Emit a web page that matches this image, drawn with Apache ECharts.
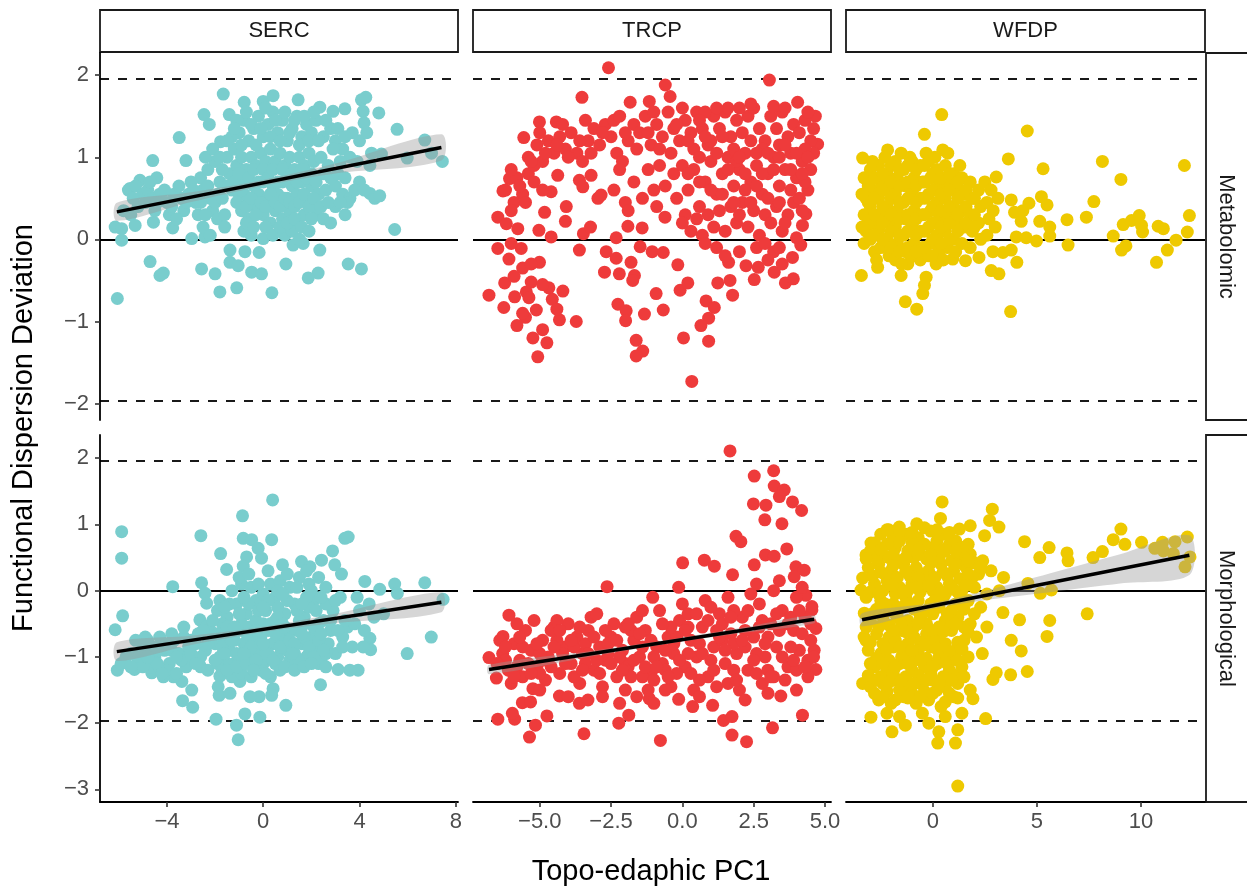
<!DOCTYPE html>
<html>
<head>
<meta charset="utf-8">
<title>Functional Dispersion Deviation vs Topo-edaphic PC1</title>
<script src="https://cdn.jsdelivr.net/npm/echarts@6.0.0/dist/echarts.min.js"></script>
<style>
  html, body { margin: 0; background: #fff; }
  #chart { width: 1247px; height: 890px; }
</style>
</head>
<body>
<div id="chart"></div>
<script>
// facets
const sites = ['SERC', 'TRCP', 'WFDP'];
const traits = ['Metabolomic', 'Morphological'];
const siteColors = ['#79CDCD', '#EE3B3B', '#EEC900'];

// axis limits / ticks (x free per site, y free per trait row)
const xLimits = [[-6.78, 8.09], [-7.34, 5.21], [-4.17, 13.08]];
const yLimits = [[-2.2, 2.27], [-3.19, 2.35]];
const xTicks = [[-4, 0, 4, 8], [-5, -2.5, 0, 2.5, 5], [0, 5, 10]];
const xTickDigits = [0, 1, 0];
const yTicks = [[-2, -1, 0, 1, 2], [-3, -2, -1, 0, 1, 2]];
const refLines = [-1.96, 0, 1.96];

// SERC - metabolomic
const sercMet = [
  [-1.66,1.77],[-0.79,1.67],[0.0,1.68],[0.41,1.75],[1.45,1.70],[2.35,1.61],[2.9,1.56],[3.39,1.59],[4.08,1.70],[4.26,1.73],
  [4.15,1.56],[4.19,1.42],[4.8,1.54],[5.56,1.34],[6.71,1.21],[6.99,1.05],[7.44,0.95],[5.98,0.99],[4.91,1.04],[4.43,0.90],
  [4.43,0.56],[4.63,0.50],[4.84,0.53],[5.46,0.12],[3.53,-0.30],[4.08,-0.36],[2.35,-0.13],[2.28,-0.41],[1.87,-0.47],[0.94,-0.30],
  [1.66,-0.05],[1.24,-0.07],[0.36,-0.65],[0.0,0.01],[-0.17,-0.16],[-0.48,-0.40],[-0.07,-0.42],[-0.76,-0.15],[-1.38,-0.13],[-1.10,-0.59],
  [-1.38,-0.28],[-1.04,-0.32],[-1.80,-0.64],[-2.0,-0.42],[-2.56,-0.36],[-2.97,0.01],[-2.42,0.03],[-4.70,-0.27],[-4.29,-0.44],[-4.15,-0.41],
  [-6.06,-0.72],[-5.88,-0.01],[-6.15,0.15],[-5.88,0.13],[-5.32,0.17],[-4.56,0.21],[-3.76,0.14],[-3.49,1.24],[-4.59,0.96],[-3.21,0.96],
  [-4.42,0.75],[-5.53,0.62],[-5.12,0.72],[-2.46,1.52],[-2.24,1.40],[-1.77,1.19],[-1.41,1.52],
  [-1.5,1.0],[-1.2,1.1],[-1.0,1.3],[-0.8,1.45],[-0.6,1.2],[-0.4,1.35],[-0.2,1.5],[0.0,1.25],[0.2,1.4],[0.4,1.55],
  [0.6,1.3],[0.8,1.45],[1.0,1.2],[1.2,1.35],[1.4,1.5],[1.6,1.25],[1.8,1.4],[2.0,1.3],[2.2,1.45],[2.5,1.25],
  [2.8,1.35],[3.0,1.2],[3.3,1.1],[3.6,1.0],[3.9,0.95],
  [-1.4,0.8],[-1.1,0.9],[-0.9,1.0],[-0.7,0.85],[-0.5,1.0],[-0.3,0.9],[-0.1,1.05],[0.1,0.95],[0.3,1.1],[0.5,0.95],
  [0.7,1.05],[0.9,0.9],[1.1,1.0],[1.3,0.85],[1.5,1.0],[1.7,0.9],[1.9,1.05],[2.1,0.95],[2.4,1.0],[2.7,0.9],[3.2,0.95],
  [-1.3,0.6],[-1.0,0.55],[-0.8,0.7],[-0.6,0.5],[-0.4,0.65],[-0.2,0.55],[0.0,0.7],[0.2,0.5],[0.4,0.65],[0.6,0.55],
  [0.8,0.7],[1.0,0.5],[1.2,0.65],[1.4,0.55],[1.6,0.7],[1.8,0.5],[2.0,0.65],[2.3,0.55],[2.6,0.6],[3.0,0.65],[3.3,0.55],[3.6,0.5],
  [-0.9,0.35],[-0.6,0.25],[-0.3,0.4],[0.0,0.3],[0.3,0.2],[0.5,0.35],[0.8,0.25],[1.1,0.35],[1.4,0.2],[1.7,0.3],[2.2,0.3],[2.5,0.25],
  [-0.8,0.1],[-0.5,0.05],[0.9,0.05],[1.2,0.1],[1.5,0.0],
  [-5.6,0.6],[-5.3,0.65],[-5.0,0.55],[-4.8,0.6],[-4.6,0.5],[-4.3,0.55],[-4.0,0.45],[-3.7,0.55],[-3.4,0.5],[-3.1,0.55],
  [-2.8,0.45],[-2.5,0.6],[-2.2,0.5],[-1.9,0.55],[-5.2,0.4],[-4.5,0.35],[-3.9,0.3],[-3.3,0.35],[-2.7,0.3],[-2.1,0.35],
  [-1.8,0.7],[-2.6,0.75],[-3.0,0.7],[-2.3,0.85],[-2.0,0.95],[-2.4,1.0],[-2.1,1.1],[-1.7,0.85],[-1.9,0.25],[-2.5,0.15],
  [-2.2,0.05],[-1.6,0.3],
  [4.0,0.7],[3.8,0.6],[3.5,0.45],[4.2,0.6],[3.4,0.3],[4.5,1.05],[4.0,1.2],[3.7,1.3],[4.3,1.3],[3.0,0.4],[2.8,0.2],
  [-1.3,1.25],[-1.1,1.45],[-0.9,1.15],[-0.7,1.55],[-0.5,1.4],[-0.3,1.15],[-0.1,1.35],[0.1,1.6],[0.3,1.25],[0.5,1.45],
  [0.7,1.2],[0.9,1.55],[1.1,1.3],[1.3,1.45],[1.5,1.15],[1.7,1.5],[1.9,1.2],[2.1,1.55],[2.3,1.2],[2.6,1.45],
  [2.9,1.1],[3.1,1.35],[3.4,1.25],
  [-1.2,0.7],[-1.0,0.8],[-0.8,0.55],[-0.6,0.75],[-0.4,0.85],[-0.2,0.7],[0.0,0.85],[0.2,0.75],[0.4,0.85],[0.6,0.7],
  [0.8,0.85],[1.0,0.75],[1.2,0.8],[1.4,0.7],[1.6,0.85],[1.8,0.75],[2.0,0.8],[2.2,0.7],[2.5,0.8],[2.8,0.75],[3.1,0.8],[3.4,0.75],
  [-1.1,0.45],[-0.9,0.6],[-0.7,0.4],[-0.5,0.5],[-0.3,0.3],[-0.1,0.45],[0.1,0.4],[0.3,0.55],[0.5,0.45],[0.7,0.4],
  [0.9,0.5],[1.1,0.45],[1.3,0.4],[1.5,0.45],[1.7,0.55],[1.9,0.4],[2.1,0.5],[2.4,0.4],[2.7,0.45],[3.2,0.45],
  [-0.7,0.2],[-0.4,0.15],[0.1,0.15],[0.4,0.05],[0.7,0.15],[1.0,0.2],[1.3,0.25],[1.6,0.15],[1.9,0.1],[2.0,0.25],
  [-5.4,0.5],[-4.9,0.45],[-4.4,0.45],[-3.8,0.4],[-3.5,0.65],[-3.2,0.45],[-2.9,0.6],[-2.6,0.45],[-2.3,0.65],[-2.0,0.45],
  [-1.7,0.5],[-1.5,0.65],[-4.1,0.6],[-4.7,0.7],[-5.8,0.35],[-5.5,0.3],[-3.6,0.25],[-2.4,0.3],[-1.5,1.2],[-1.8,1.0],
  [-1.2,1.35],[-1.6,0.15]
];

// SERC - morphological
const sercMor = [
  [-5.88,0.89],[-5.88,0.49],[-6.15,-0.59],[-5.84,-0.38],[-6.06,-1.20],[-3.76,0.06],[-2.59,0.83],[-1.77,0.56],[-1.52,0.32],[-0.86,1.13],
  [0.39,1.37],[0.35,0.77],[-0.83,0.79],[-0.48,0.77],[-0.21,0.64],[-0.07,0.49],[-0.69,0.51],[-0.83,0.37],[0.80,0.39],[1.59,0.44],
  [1.94,0.36],[2.42,0.46],[2.88,0.60],[3.39,0.79],[3.53,0.81],[2.97,0.39],[3.25,0.25],[4.22,0.14],[4.84,0.02],[5.46,0.10],
  [5.57,-0.04],[6.71,0.12],[7.47,-0.13],[6.98,-0.70],[5.98,-0.95],[4.43,-0.72],[4.46,-0.89],[4.15,-0.85],[3.94,-1.20],[3.6,-1.20],
  [3.11,-1.19],[2.38,-1.42],[0.94,-1.73],[0.41,-1.48],[0.35,-1.58],[-0.14,-1.91],[-0.17,-1.60],[-0.55,-1.60],[-0.76,-1.86],[-1.11,-2.03],
  [-1.04,-2.25],[-1.96,-1.94],[-1.87,-1.45],[-1.83,-1.58],[-1.38,-1.55],[-1.80,-1.29],[-0.97,-1.37],[-2.97,-1.50],[-2.93,-1.76],[-3.35,-1.66],
  [-3.38,-1.37],[-3.73,-1.30],[-3.18,-1.10],[-4.63,-1.24],[-4.15,-1.30],[-5.35,-1.19],[-2.56,0.12],[-2.42,-0.04],[-2.35,-0.19],[-2.63,-0.44],
  [-2.35,-0.54],
  [-2.2,-0.6],[-2.0,-0.8],[-1.8,-1.0],[-1.6,-0.7],[-1.4,-0.9],[-1.2,-1.1],[-1.0,-0.6],[-0.8,-0.8],[-0.6,-1.0],[-0.4,-0.7],
  [-0.2,-0.9],[0.0,-1.1],[0.2,-0.6],[0.4,-0.8],[0.6,-1.0],[0.8,-0.7],[1.0,-0.9],[1.2,-1.1],[1.4,-0.6],[1.6,-0.8],
  [1.8,-1.0],[2.0,-0.7],[2.2,-0.9],[2.4,-1.05],[2.7,-0.8],[3.0,-0.95],[3.3,-0.7],[3.5,-0.55],
  [-1.9,-0.3],[-1.5,-0.4],[-1.1,-0.2],[-0.7,-0.35],[-0.3,-0.15],[0.1,-0.3],[0.5,-0.1],[0.9,-0.35],[1.3,-0.2],[1.7,-0.4],
  [2.1,-0.15],[2.5,-0.45],[2.9,-0.3],[3.2,-0.1],
  [-1.3,0.0],[-0.9,0.1],[-0.5,0.05],[0.3,0.1],[0.7,0.15],[1.1,0.05],[1.5,0.2],[1.9,0.1],[2.3,0.2],[0.0,-0.05],
  [-1.7,-1.2],[-1.3,-1.3],[-0.9,-1.25],[-0.5,-1.3],[-0.1,-1.2],[0.3,-1.3],[0.7,-1.2],[1.1,-1.05],[1.5,-1.05],[1.9,-0.95],
  [2.3,-1.1],[2.6,-1.15],[-2.4,-0.9],[-2.6,-1.15],[-2.3,-1.2],
  [-1.7,-0.5],[-1.2,-0.75],[-0.6,-0.55],[-0.1,-0.7],[0.5,-0.45],[1.1,-0.6],[1.6,-0.55],[2.3,-0.5],[2.8,-0.6],[-0.3,-0.45],
  [0.2,-0.95],[0.9,-0.85],[1.3,-0.95],[-0.9,-1.0],[-1.5,-1.1],[0.6,-0.25],[1.9,-0.25],[-0.5,-1.1],[2.6,-0.95],[0.0,-0.5],
  [-5.5,-0.95],[-5.2,-1.05],[-5.0,-0.85],[-4.8,-0.75],[-4.5,-1.0],[-4.3,-0.7],[-4.1,-0.9],[-3.9,-1.1],[-3.7,-0.75],[-3.5,-0.95],
  [-3.3,-0.7],[-3.1,-0.85],[-2.9,-1.05],[-2.7,-0.65],[-4.7,-1.15],[-4.0,-1.2],[-3.6,-1.25],[-3.0,-0.75],[-5.7,-1.0],[-4.9,-0.7],
  [-3.8,-0.65],[-3.2,-1.15],
  [3.8,-0.5],[4.0,-0.3],[4.2,-0.6],[4.6,-0.4],[3.7,-0.85],[4.4,-0.2],[5.0,-0.35],[3.9,-0.1],[3.4,-0.45],
  [-2.1,-0.45],[-1.9,-0.65],[-1.7,-0.85],[-1.5,-0.55],[-1.3,-0.75],[-1.1,-0.95],[-0.9,-0.5],[-0.7,-0.65],[-0.5,-0.85],[-0.3,-0.6],
  [-0.1,-0.8],[0.1,-0.95],[0.3,-0.5],[0.5,-0.65],[0.7,-0.85],[0.9,-0.55],[1.1,-0.75],[1.3,-0.8],[1.5,-0.45],[1.7,-0.7],
  [1.9,-0.85],[2.1,-0.55],[2.3,-0.75],[2.5,-0.9],[2.8,-0.45],[3.1,-0.6],[3.3,-0.85],
  [-1.8,-0.15],[-1.4,-0.2],[-1.0,-0.35],[-0.6,-0.2],[-0.2,-0.3],[0.2,-0.15],[0.6,-0.4],[1.0,-0.15],[1.4,-0.3],[1.8,-0.1],
  [2.2,-0.3],[2.6,-0.2],[3.0,-0.15],
  [-1.0,0.2],[-0.6,0.25],[-0.2,0.1],[0.2,0.3],[0.6,0.0],[1.0,0.25],[1.4,0.05],[1.8,0.3],[2.0,0.0],[2.6,0.05],
  [-1.9,-1.1],[-1.5,-1.2],[-1.1,-1.15],[-0.7,-1.1],[-0.3,-1.05],[0.1,-1.25],[0.5,-1.1],[0.9,-1.15],[1.3,-1.2],[1.7,-1.15],[2.1,-1.0],
  [-5.3,-0.75],[-5.0,-1.15],[-4.6,-0.85],[-4.4,-1.1],[-4.2,-0.8],[-3.8,-0.9],[-3.4,-1.05],[-3.0,-0.95],[-2.8,-0.8],[-2.5,-0.6],
  [-2.3,-0.8],[-2.6,-1.0],[-5.9,-1.1],[-5.5,-1.15],[-4.2,-1.25],[-3.3,-0.55],
  [-2.0,-1.05],[-1.6,-0.95],[-1.2,-0.55],[-0.8,-0.95],[-0.4,-1.2],[0.0,-0.8],[0.4,-1.05],[0.8,-0.5],[1.2,-0.95],[1.6,-0.65],
  [2.0,-1.1],[2.4,-0.65],[-1.6,-0.25],[-0.8,-0.1],[0.0,-0.25],[0.8,-0.05],[1.6,-0.2],[2.4,-0.1],[-5.1,-0.95],[-4.4,-0.9],
  [-3.6,-1.0],[-2.8,-1.1],[-4.8,-1.0],[-4.0,-0.8]
];

// TRCP - metabolomic
const trcpMet = [
  [-2.59,2.09],[3.05,1.94],[-0.60,1.88],[-0.43,1.74],[-3.52,1.73],[-1.83,1.67],[-1.16,1.68],[4.04,1.67],[-5.01,1.43],[-4.42,1.43],
  [-5.56,1.24],[4.66,1.50],[-6.06,0.74],[-6.29,0.59],[-6.47,0.27],[-6.17,0.19],[-5.77,0.13],[-5.03,0.11],[-4.6,0.03],[-6.47,-0.11],
  [-6.08,-0.24],[-5.65,-0.11],[-6.78,-0.68],[-6.23,-0.53],[-6.26,-0.83],[-5.88,-0.70],[-5.47,-0.64],[-5.30,-0.52],[-5.01,-0.28],[-5.12,-0.86],
  [-5.38,-0.71],[-4.68,-0.59],[-4.56,-0.73],[-4.19,-0.63],[-4.31,-0.98],[-3.72,-1.00],[-5.24,-1.20],[-4.75,-1.26],[-5.07,-1.43],[-3.61,-0.13],
  [-3.47,0.07],[-3.22,0.15],[-2.96,0.50],[-2.85,0.54],[-3.61,0.72],[-3.49,0.64],[-3.20,0.78],[-4.83,0.33],[-4.60,0.58],[-4.37,0.78],
  [-4.07,0.40],[-4.10,0.22],[-2.32,0.02],[-2.67,-0.15],[-2.32,-0.23],[-2.73,-0.40],[-2.21,-0.42],[-1.80,-0.28],[-1.68,-0.44],[-1.74,-0.50],
  [-2.26,-0.79],[-1.97,-0.87],[-1.99,-0.99],[-1.33,-0.91],[-1.62,-1.23],[-1.39,-1.36],[-1.62,-1.42],[-0.92,-0.66],[-0.67,-0.86],[-1.48,-0.09],
  [-1.06,-0.15],[-0.67,-0.16],[-1.41,0.14],[-1.91,0.16],[-0.61,0.27],[-0.16,-0.31],[-0.08,-0.62],[0.19,-0.53],[0.04,-1.20],[0.33,-1.73],
  [0.83,-0.75],[1.12,-0.83],[0.92,-0.96],[0.65,-1.05],[0.92,-1.24],[1.24,-0.53],[1.67,-0.50],[1.76,-0.68],[1.62,-0.28],[2.23,-0.32],
  [2.66,-0.34],[2.52,-0.49],[3.22,-0.40],[3.61,-0.53],[3.89,-0.48],[3.86,-0.22],[4.15,-0.07],[4.0,0.02],[4.33,0.31],[4.21,0.17],[4.74,1.16],
  [-5.4,1.0],[-5.1,1.15],[-4.9,0.95],[-4.7,1.2],[-4.5,1.05],[-4.3,1.25],[-4.1,1.1],[-3.9,1.3],[-3.7,1.05],[-3.5,0.95],
  [-3.3,1.2],[-3.1,1.35],[-2.9,1.15],[-2.7,1.4],[-2.5,1.25],[-2.3,1.05],[-2.1,0.95],[-1.9,1.2],[-1.7,1.4],[-1.5,1.3],
  [-1.3,1.5],[-1.1,1.15],[-0.9,1.4],[-0.7,1.25],[-0.5,1.55],[-0.3,1.35],[-0.1,1.2],[0.1,1.45],[0.3,1.3],[0.5,1.55],
  [0.7,1.35],[0.9,1.15],[1.1,1.5],[1.3,1.35],[1.5,1.55],[1.7,1.25],[1.9,1.45],[2.1,1.3],[2.3,1.5],[2.5,1.6],
  [2.7,1.35],[2.9,1.2],[3.1,1.5],[3.3,1.35],[3.5,1.55],[3.7,1.25],[3.9,1.4],[4.1,1.3],[4.3,1.45],[4.5,1.2],[4.6,1.05],[2.4,1.65],[3.2,1.62],
  [-5.8,0.75],[-5.6,0.55],[-5.4,0.8],[-5.9,0.45],[-6.2,0.6],[-5.2,0.7],[-4.9,0.6],
  [-2.4,0.6],[-2.0,0.45],[-1.7,0.7],[-1.4,0.5],[-1.2,0.85],[-1.0,0.6],[-0.8,0.9],[-0.6,0.65],[-2.2,0.85],[-1.9,0.35],[-0.3,0.8],[-0.9,0.4],
  [0.0,0.9],[0.2,0.6],[0.4,0.85],[0.6,0.4],[0.8,0.7],[1.0,0.95],[1.2,0.55],[1.4,0.8],[1.6,1.0],[1.8,0.65],
  [2.0,0.85],[2.2,1.05],[2.4,0.7],[2.6,0.9],[2.8,0.55],[3.0,0.8],[3.2,1.0],[3.4,0.65],[3.6,0.85],[3.8,1.05],
  [4.0,0.75],[4.2,0.95],[4.4,0.6],[4.5,0.85],
  [0.1,0.3],[0.3,0.1],[0.5,0.25],[0.7,0.05],[0.9,0.3],[1.1,0.15],[1.3,0.35],[1.5,0.1],[1.7,0.4],[1.9,0.2],
  [2.1,0.45],[2.3,0.15],[2.5,0.35],[2.7,0.05],[2.9,0.3],[3.1,0.2],[3.3,0.4],[3.5,0.1],[3.7,0.3],[3.9,0.45],[4.1,0.5],[4.3,0.7],
  [2.6,-0.1],[2.9,-0.05],[3.2,-0.15],[3.4,-0.1],[0.8,-0.05],[1.2,-0.1],[1.5,-0.2],[2.0,-0.15],[3.0,-0.25],[3.5,-0.3],
  [1.0,1.2],[0.4,1.1],[2.8,1.1],[3.4,1.15],[4.3,1.1],[1.9,0.95],[-0.2,0.5],[0.0,0.2],
  [0.2,1.2],[0.6,1.0],[0.8,1.25],[1.2,1.05],[1.4,1.25],[1.6,0.85],[1.8,1.1],[2.0,1.0],[2.2,0.8],[2.4,1.2],
  [2.6,1.05],[2.8,0.8],[3.0,1.05],[3.2,0.85],[3.4,1.0],[3.6,1.15],[3.8,0.85],[4.0,1.05],[4.2,0.8],[4.4,1.0],[4.6,1.35],
  [0.2,0.8],[0.6,0.7],[1.0,0.6],[1.4,0.55],[1.8,0.45],[2.2,0.6],[2.6,0.65],[3.0,0.5],[3.4,0.45],[3.8,0.6],
  [4.2,0.35],[2.0,0.3],[2.4,0.45],[3.6,0.2],
  [-0.4,1.05],[-0.8,1.1],[-1.2,1.3],[-1.6,1.1],[-2.0,1.3],[-2.4,1.45],[-2.8,1.3],[-3.2,1.05],[-3.6,1.2],[-4.0,1.0],
  [-4.4,1.15],[-4.8,1.05],[-5.2,0.9],[-5.0,1.3],[-4.2,1.4],[-3.4,1.45],[-2.2,1.5],[-1.0,1.55],[0.0,1.6],[0.8,1.55],
  [1.6,1.6],[2.0,1.6],[3.6,1.6],[4.4,1.55],[-0.2,1.4],[0.6,1.45],[1.2,1.6],
  [-6.0,0.85],[-5.7,0.65],[-6.0,0.35],[-5.5,0.45],[-5.3,0.95],
  [-5.6,-0.35],[-5.9,-0.45],[-6.0,-0.05],[-5.5,-0.95],[-4.9,-0.55],[-5.3,-0.3],[-4.4,-0.85],[-5.8,-1.05],[-4.9,-1.1],[-5.6,-0.9]
];

// TRCP - morphological
const trcpMor = [
  [1.67,2.11],[2.52,1.73],[3.20,1.81],[3.22,1.58],[3.57,1.52],[3.40,1.42],[2.49,1.31],[2.93,1.29],[3.86,1.34],[4.18,1.21],
  [2.89,1.07],[3.49,1.01],[1.88,0.82],[2.05,0.74],[3.66,0.63],[2.91,0.54],[3.22,0.52],[0.01,0.42],[0.77,0.46],[1.12,0.37],
  [2.52,0.39],[3.98,0.36],[4.27,0.31],[3.92,0.21],[1.76,0.24],[-2.64,0.06],[-1.04,-0.10],[-0.13,0.05],[4.33,-0.07],[4.54,-0.24],
  [-6.08,-0.37],[-6.29,-0.69],[-6.78,-1.01],[-6.52,-1.32],[-6.47,-1.94],[-5.88,-1.94],[-5.96,-1.85],[-5.36,-2.21],[-5.15,-2.03],[-4.75,-1.89],
  [-5.61,-1.69],[-5.32,-1.68],[-5.24,-1.48],[-4.31,-1.59],[-3.45,-2.16],[-3.61,-1.70],[-3.31,-1.65],[-2.23,-2.00],[-1.88,-1.88],[-0.77,-2.26],
  [-1.16,-1.63],[-0.13,-1.64],[0.36,-1.75],[1.06,-1.73],[1.44,-1.96],[1.74,-1.90],[1.74,-2.18],[2.25,-2.28],[3.16,-2.07],[4.21,-1.88],
  [3.45,-1.59],[4.68,-1.19],[4.62,-0.90],[4.68,-0.57],[4.54,-0.29],
  [-6.3,-0.95],[-6.1,-1.2],[-5.9,-0.8],[-5.7,-1.05],[-5.5,-0.6],[-5.3,-0.9],[-5.1,-1.15],[-4.9,-0.75],[-4.7,-1.0],[-4.5,-0.55],
  [-4.3,-1.25],[-4.1,-0.85],[-3.9,-1.1],[-3.7,-0.7],[-3.5,-0.95],[-3.3,-0.6],[-3.1,-1.2],[-2.9,-0.85],[-2.7,-1.05],[-2.5,-0.7],
  [-2.3,-1.3],[-2.1,-0.9],[-1.9,-1.15],[-1.7,-0.75],[-1.5,-1.0],[-1.3,-0.6],[-1.1,-1.25],[-0.9,-0.85],[-0.7,-1.1],[-0.5,-0.7],
  [-0.3,-0.95],[-0.1,-0.45],[0.1,-1.15],[0.3,-0.75],[0.5,-1.0],[0.7,-0.55],[0.9,-1.3],[1.1,-0.85],[1.3,-0.35],[1.5,-1.1],
  [1.7,-0.65],[1.9,-0.95],[2.1,-0.4],[2.3,-1.2],[2.5,-0.7],[2.7,-0.2],[2.9,-1.0],[3.1,-0.5],[3.3,-0.85],[3.5,-0.3],
  [3.7,-1.15],[3.9,-0.6],[4.1,-0.9],[4.3,-0.4],[4.5,-0.75],
  [-6.0,-1.4],[-5.6,-1.3],[-5.2,-0.45],[-4.8,-1.35],[-4.4,-0.75],[-4.0,-0.5],[-3.6,-1.4],[-3.2,-0.4],[-2.8,-1.45],[-2.4,-0.5],
  [-2.0,-1.5],[-1.6,-0.4],[-1.2,-1.5],[-0.8,-0.3],[-0.4,-1.45],[0.0,-0.2],[0.4,-1.5],[0.8,-0.15],[1.2,-1.45],[1.6,-0.1],
  [2.0,-1.5],[2.4,-0.05],[2.8,-1.4],[3.2,0.0],[3.6,-1.35],[4.0,-0.1],[4.4,-1.3],
  [-5.8,-0.5],[-3.0,-0.35],[-1.4,-0.3],[0.2,-0.35],[1.0,-0.25],[1.8,-0.3],[2.6,0.1],[3.4,0.15],[4.2,0.05],
  [-2.2,-1.7],[-1.0,-1.7],[0.6,-1.6],[2.2,-1.65],[3.0,-1.55],[4.0,-1.5],[-4.0,-1.6],
  [-5.0,-1.25],[-4.6,-0.6],[-3.8,-0.85],[-3.4,-1.1],[-2.6,-0.95],[-1.8,-0.6],[-1.4,-1.3],[-0.6,-0.9],[-0.2,-1.25],[0.6,-0.8],
  [1.4,-0.75],[2.2,-0.85],[3.0,-0.7],[3.8,-0.85],[4.4,-1.05],[0.2,-0.55],[1.8,-1.2],[2.6,-1.25],[-1.0,-1.0],[-2.0,-1.1],
  [-6.4,-0.75],[-6.2,-1.05],[-5.8,-1.15],[-5.6,-0.85],[-5.4,-1.1],[-5.0,-0.95],[-4.6,-1.15],[-4.2,-0.95],[-3.8,-1.3],[-3.4,-0.8],
  [-3.0,-1.05],[-2.6,-0.8],[-2.2,-1.0],[-1.8,-1.3],[-1.4,-0.85],[-1.0,-1.35],[-0.6,-1.2],[-0.2,-0.7],[0.2,-0.95],[0.6,-1.35],
  [1.0,-1.05],[1.4,-0.5],[1.8,-0.8],[2.2,-0.6],[2.6,-0.95],[3.0,-1.2],[3.4,-0.6],[3.8,-0.4],[4.2,-0.65],[4.6,-1.0],
  [-4.4,-0.45],[-3.6,-0.55],[-2.0,-0.55],[-0.4,-0.55],[1.2,-0.6],[2.8,-0.45],[4.0,-1.2],[-1.6,-1.6],[-0.6,-1.5],[1.6,-1.4],
  [3.2,-1.3],[-2.8,-1.6],[-5.0,-1.5],
  [-6.5,-1.1],[-6.2,-0.85],[-5.9,-1.3],[-5.7,-0.7],[-5.3,-1.25],[-5.1,-0.8],[-4.9,-1.05],[-4.5,-0.85],[-4.3,-0.6],[-4.1,-1.1],
  [-3.9,-0.75],[-3.5,-1.2],[-3.3,-0.95],[-3.1,-0.7],[-2.9,-1.25],[-2.7,-0.6],[-2.5,-1.1],[-2.3,-0.75],[-2.1,-1.2],[-1.9,-0.5],
  [-1.7,-1.05],[-1.5,-0.65],[-1.3,-1.15],[-1.1,-0.75],[-0.9,-1.15],[-0.7,-0.5],[-0.5,-1.3],[-0.3,-0.8],[-0.1,-1.05],[0.1,-0.6],
  [0.3,-1.25],[0.5,-0.35],[0.7,-0.95],[0.9,-0.45],[1.1,-1.2],[1.3,-0.7],[1.5,-0.9],[1.7,-0.4],[1.9,-1.35],[2.1,-0.75],
  [2.3,-0.3],[2.5,-1.05],[2.7,-0.55],[2.9,-0.8],[3.1,-1.3],[3.3,-0.35],[3.5,-1.0],[3.7,-0.5],[3.9,-1.05],[4.1,-0.3],
  [4.3,-1.15],[4.5,-0.5]
];

// WFDP - metabolomic
const wfdpMet = [
  [0.43,1.52],[4.54,1.32],[-0.40,1.28],[-3.37,0.99],[-2.17,1.09],[-1.52,1.05],[-0.32,1.05],[0.48,1.09],[0.72,1.05],[3.63,0.98],
  [5.30,0.86],[8.15,0.95],[9.04,0.73],[12.09,0.90],[7.74,0.46],[7.38,0.27],[6.45,0.24],[5.22,0.52],[5.49,0.42],[4.62,0.44],
  [4.33,0.35],[5.14,0.22],[5.62,0.15],[5.62,0.04],[4.98,-0.02],[6.5,-0.07],[9.15,0.18],[9.55,0.23],[9.92,0.29],[10.03,0.17],
  [10.08,0.09],[8.67,0.04],[9.07,-0.13],[9.28,-0.08],[10.83,0.16],[11.08,0.13],[12.33,0.29],[12.23,0.09],[11.69,-0.01],[11.27,-0.13],
  [10.75,-0.28],[-3.43,-0.44],[-2.65,-0.34],[-1.52,-0.44],[-1.32,-0.76],[-0.77,-0.85],[-0.40,-0.56],[-0.48,-0.66],[-0.32,-0.46],[0.16,-0.30],
  [0.96,-0.24],[1.57,-0.26],[2.22,-0.22],[2.81,-0.38],[3.18,-0.42],[4.04,-0.28],[3.74,-0.88],[2.89,-0.15],[3.37,-0.16],[3.77,-0.13],
  [3.05,0.76],[3.13,0.50],[3.77,0.48],[3.93,0.33],[4.25,0.22],[4.01,0.03],[4.49,0.02],
  [-3.3,0.75],[-3.2,0.5],[-3.3,0.3],[-3.2,0.1],[-3.3,-0.05],[-3.0,0.85],[-2.9,0.6],[-3.0,0.4],[-2.9,0.2],[-3.0,0.0],[-2.8,-0.15],
  [-2.6,0.9],[-2.5,0.7],[-2.6,0.5],[-2.5,0.3],[-2.6,0.1],[-2.5,-0.1],[-2.2,0.8],[-2.1,0.6],[-2.2,0.4],[-2.1,0.2],[-2.2,0.0],[-2.1,-0.2],
  [-1.8,0.95],[-1.7,0.75],[-1.8,0.55],[-1.7,0.35],[-1.8,0.15],[-1.7,-0.05],[-1.8,-0.25],[-1.4,0.85],[-1.3,0.65],[-1.4,0.45],
  [-1.3,0.25],[-1.4,0.05],[-1.3,-0.15],[-1.2,-0.3],
  [-1.0,0.95],[-0.9,0.75],[-1.0,0.55],[-0.9,0.35],[-1.0,0.15],[-0.9,-0.05],[-1.0,-0.2],[-0.6,0.9],[-0.5,0.7],[-0.6,0.5],
  [-0.5,0.3],[-0.6,0.1],[-0.5,-0.1],[-0.6,-0.25],
  [-0.2,0.95],[-0.1,0.75],[-0.2,0.55],[-0.1,0.35],[-0.2,0.15],[-0.1,-0.05],[-0.2,-0.2],[0.2,0.85],[0.3,0.65],[0.2,0.45],
  [0.3,0.25],[0.2,0.05],[0.3,-0.15],
  [0.6,0.9],[0.7,0.7],[0.6,0.5],[0.7,0.3],[0.6,0.1],[0.7,-0.1],[1.0,0.8],[1.1,0.6],[1.0,0.4],[1.1,0.2],[1.0,0.0],[1.1,-0.15],
  [1.4,0.75],[1.5,0.55],[1.4,0.35],[1.5,0.15],[1.4,-0.05],[1.8,0.7],[1.9,0.5],[1.8,0.3],[1.9,0.1],[1.8,-0.1],
  [2.2,0.6],[2.3,0.4],[2.2,0.2],[2.3,0.0],[2.6,0.45],[2.7,0.25],[2.6,0.05],[2.9,0.35],[3.0,0.15],[2.5,0.7],[2.8,0.6],
  [-3.1,0.65],[-3.1,0.45],[-3.1,0.2],[-2.8,0.75],[-2.8,0.5],[-2.8,0.3],[-2.8,0.05],[-2.4,0.8],[-2.4,0.6],[-2.4,0.4],
  [-2.4,0.2],[-2.4,0.0],[-2.0,0.9],[-2.0,0.7],[-2.0,0.5],[-2.0,0.3],[-2.0,0.1],[-2.0,-0.1],[-1.6,0.85],[-1.6,0.65],
  [-1.6,0.45],[-1.6,0.25],[-1.6,0.05],[-1.6,-0.15],[-1.2,0.9],[-1.2,0.7],[-1.2,0.5],[-1.2,0.3],[-1.2,0.1],[-1.2,-0.1],
  [-0.8,0.85],[-0.8,0.65],[-0.8,0.45],[-0.8,0.25],[-0.8,0.05],[-0.8,-0.15],[-0.4,0.9],[-0.4,0.7],[-0.4,0.5],[-0.4,0.3],
  [-0.4,0.1],[-0.4,-0.1],[0.0,0.8],[0.0,0.6],[0.0,0.4],[0.0,0.2],[0.0,0.0],[0.0,-0.2],[0.4,0.75],[0.4,0.55],
  [0.4,0.35],[0.4,0.15],[0.4,-0.05],[0.8,0.8],[0.8,0.6],[0.8,0.4],[0.8,0.2],[0.8,0.0],[1.2,0.7],[1.2,0.5],
  [1.2,0.3],[1.2,0.1],[1.6,0.6],[1.6,0.4],[1.6,0.2],[2.0,0.5],[2.0,0.3],[2.0,0.15],
  [-2.9,0.95],[-2.3,1.0],[-1.1,1.0],[0.1,1.0],[1.3,0.9],[-3.4,0.55],[-3.4,0.15],[-2.7,-0.25],[-1.5,-0.3],[0.5,-0.25]
];

// WFDP - morphological
const wfdpMor = [
  [0.45,1.34],[2.86,1.23],[0.37,1.09],[2.73,1.06],[3.18,0.96],[1.80,0.98],[1.28,0.93],[2.49,0.83],[4.41,0.74],[5.59,0.65],
  [6.45,0.57],[6.50,0.45],[5.14,0.50],[7.70,0.50],[8.15,0.59],[9.04,0.93],[8.67,0.77],[9.23,0.70],[10.03,0.73],[11.04,0.73],
  [11.64,0.74],[12.23,0.81],[10.67,0.64],[12.36,0.51],[12.12,0.36],[11.56,0.56],[11.08,0.60],[7.42,-0.35],[5.62,-0.45],[5.49,-0.69],
  [4.25,-0.91],[4.54,-1.22],[3.74,-1.27],[2.89,-1.34],[3.05,-1.24],[2.54,-1.93],[-2.97,-1.91],[-1.96,-2.13],[-1.32,-2.03],[-0.19,-2.00],
  [0.29,-2.13],[0.24,-2.30],[1.09,-2.30],[1.20,-2.10],[1.20,-2.95],[-3.37,0.19],[-3.45,0.01],[-3.21,0.54],[-2.97,0.72],[-2.12,0.92],
  [-1.61,0.96],[-0.77,1.01],[4.57,0.11],[4.17,-0.44],[5.17,-0.04],[5.70,0.01],[3.37,-0.33],[3.77,-0.75],[2.38,-0.95],[1.93,-1.63],
  [-3.37,-1.40],[-3.21,-0.75],[-3.29,-0.34],
  [-2.5,0.85],[-1.9,0.8],[-1.3,0.85],[-0.7,0.8],[-0.1,0.9],[0.5,0.85],[1.1,0.75],[1.7,0.7],
  [-3.0,0.6],[-2.4,0.55],[-1.8,0.65],[-1.2,0.6],[-0.6,0.55],[0.0,0.65],[0.6,0.6],[1.2,0.5],[1.8,0.55],[2.4,0.45],
  [-3.1,0.35],[-2.6,0.4],[-2.0,0.3],[-1.4,0.4],[-0.8,0.35],[-0.2,0.3],[0.4,0.4],[1.0,0.3],[1.6,0.35],[2.2,0.25],[2.8,0.3],[3.4,0.2],
  [-2.8,0.1],[-2.2,0.15],[-1.6,0.05],[-1.0,0.1],[-0.4,0.15],[0.2,0.05],[0.8,0.1],[1.4,0.0],[2.0,0.05],[2.6,-0.05],[3.2,0.0],
  [-3.2,-0.1],[-2.5,-0.15],[-1.9,-0.2],[-1.3,-0.1],[-0.7,-0.15],[-0.1,-0.2],[0.5,-0.1],[1.1,-0.2],[1.7,-0.15],[2.3,-0.25],
  [-3.0,-0.45],[-2.4,-0.4],[-1.8,-0.35],[-1.2,-0.45],[-0.6,-0.4],[0.0,-0.35],[0.6,-0.45],[1.2,-0.4],[1.8,-0.5],[2.6,-0.55],
  [-2.7,-0.65],[-2.1,-0.7],[-1.5,-0.6],[-0.9,-0.7],[-0.3,-0.65],[0.3,-0.7],[0.9,-0.6],[1.5,-0.75],[2.1,-0.7],
  [-3.1,-0.9],[-2.5,-0.95],[-1.9,-0.85],[-1.3,-0.95],[-0.7,-0.9],[-0.1,-0.85],[0.5,-0.95],[1.1,-0.9],[1.7,-1.0],
  [-2.8,-1.15],[-2.2,-1.2],[-1.6,-1.1],[-1.0,-1.2],[-0.4,-1.15],[0.2,-1.1],[0.8,-1.2],[1.4,-1.15],
  [-3.0,-1.45],[-2.4,-1.4],[-1.8,-1.35],[-1.2,-1.45],[-0.6,-1.4],[0.0,-1.35],[0.6,-1.45],[1.2,-1.4],[1.8,-1.5],
  [-2.6,-1.65],[-2.0,-1.7],[-1.4,-1.6],[-0.8,-1.7],[-0.2,-1.65],[0.4,-1.75],[1.0,-1.6],
  [-2.2,-1.85],[-1.6,-1.9],[-0.5,-1.85],[0.6,-1.9],[1.4,-1.85],
  [-2.8,0.72],[-2.2,0.7],[-1.6,0.75],[-1.0,0.72],[-0.4,0.7],[0.2,0.75],[0.8,0.7],[1.4,0.65],
  [-2.7,0.48],[-2.1,0.5],[-1.5,0.45],[-0.9,0.5],[-0.3,0.48],[0.3,0.5],[0.9,0.45],[1.5,0.5],[2.0,0.42],
  [-2.9,0.22],[-2.3,0.25],[-1.7,0.2],[-1.1,0.22],[-0.5,0.25],[0.1,0.2],[0.7,0.22],[1.3,0.18],[1.9,0.2],
  [-3.0,-0.02],[-2.4,0.0],[-1.8,-0.05],[-1.2,0.0],[-0.6,-0.02],[0.0,0.0],[0.6,-0.05],[1.2,-0.02],
  [-2.7,-0.28],[-2.1,-0.3],[-1.5,-0.25],[-0.9,-0.28],[-0.3,-0.3],[0.3,-0.25],[0.9,-0.3],[1.5,-0.28],
  [-3.2,-0.55],[-2.1,-0.52],[-1.5,-0.5],[-0.9,-0.55],[-0.3,-0.5],[0.3,-0.55],[0.9,-0.5],[1.5,-0.55],
  [-3.0,-0.78],[-2.4,-0.8],[-1.8,-0.75],[-1.2,-0.8],[-0.6,-0.78],[0.0,-0.75],[0.6,-0.8],[1.2,-0.78],
  [-2.7,-1.02],[-2.1,-1.05],[-1.5,-1.0],[-0.9,-1.05],[-0.3,-1.02],[0.3,-1.0],[0.9,-1.05],
  [-3.1,-1.28],[-2.5,-1.3],[-1.9,-1.25],[-1.3,-1.3],[-0.7,-1.28],[-0.1,-1.25],[0.5,-1.3],[1.1,-1.28],
  [-2.8,-1.55],[-2.2,-1.52],[-1.6,-1.5],[-1.0,-1.55],[-0.4,-1.52],[0.2,-1.5],[0.8,-1.55],
  [-2.2,0.92],[-1.6,0.9],[-1.0,0.88],[-0.4,0.95],[0.2,0.92],[0.8,0.88],
  [-3.2,0.48],[-2.5,0.62],[-1.9,0.55],[-1.3,0.5],[-0.7,0.62],[-0.1,0.55],[0.5,0.62],[1.1,0.6],[1.7,0.45],
  [-2.5,0.28],[-1.9,0.38],[-1.3,0.3],[-0.7,0.2],[-0.1,0.42],[0.5,0.28],[1.1,0.4],[1.7,0.25],[2.3,0.35],
  [-2.6,-0.05],[-2.0,0.08],[-1.4,-0.02],[-0.8,0.05],[-0.2,0.08],[0.4,-0.02],[1.0,0.02],[1.6,0.08],
  [-2.9,-0.35],[-2.3,-0.2],[-1.7,-0.4],[-1.1,-0.2],[-0.5,-0.35],[0.1,-0.15],[0.7,-0.35],[1.3,-0.15],[2.0,-0.35],
  [-2.6,-0.55],[-1.9,-0.6],[-1.3,-0.62],[-0.7,-0.5],[-0.1,-0.6],[0.5,-0.62],[1.1,-0.5],[1.7,-0.62],
  [-3.3,-0.7],[-2.2,-0.88],[-1.6,-0.85],[-1.0,-0.9],[-0.4,-0.82],[0.2,-0.88],[0.8,-0.92],[1.4,-0.88],
  [-3.0,-1.1],[-2.4,-1.1],[-1.8,-1.15],[-1.2,-1.1],[-0.6,-1.05],[0.0,-1.15],[0.6,-1.08],[1.2,-1.05],
  [-2.7,-1.35],[-2.1,-1.38],[-1.5,-1.35],[-0.9,-1.4],[-0.3,-1.35],[0.3,-1.4],[0.9,-1.35],[1.5,-1.3],
  [-2.4,-1.6],[-1.8,-1.65],[-1.2,-1.62],[-0.6,-1.6],[0.0,-1.55],[0.6,-1.68],[1.2,-1.62]
];

// lm fits (end points) and 95% bands [x, lower, upper]
const sercMetFit = [[-6.08, 0.335], [7.4, 1.12]];
const sercMetBand = [[-6.08,0.225,0.445],[-3,0.454,0.574],[0,0.654,0.724],[3,0.803,0.923],[7.4,0.96,1.28]];
const sercMorFit = [[-6.08, -0.92], [7.4, -0.175]];
const sercMorBand = [[-6.08,-1.06,-0.78],[-3,-0.82,-0.68],[0,-0.624,-0.544],[3,-0.488,-0.348],[7.4,-0.325,-0.025]];
const trcpMorFit = [[-6.78, -1.19], [4.62, -0.43]];
const trcpMorBand = [[-6.78,-1.26,-1.12],[-3,-0.978,-0.898],[-1,-0.835,-0.775],[2,-0.644,-0.564],[4.62,-0.49,-0.37]];
const wfdpMorFit = [[-3.4, -0.44], [12.33, 0.535]];
const wfdpMorBand = [[-3.4,-0.54,-0.34],[0,-0.274,-0.184],[3,-0.123,0.037],[6,-0.007,0.293],[9,0.109,0.549],[12.33,0.235,0.835]];

const points = [[sercMet, trcpMet, wfdpMet], [sercMor, trcpMor, wfdpMor]];
const fits = [[sercMetFit, null, null], [sercMorFit, trcpMorFit, wfdpMorFit]];
const bands = [[sercMetBand, null, null], [sercMorBand, trcpMorBand, wfdpMorBand]];

// layout
const FONT = '"Liberation Sans", Arial, sans-serif';
const colLeft = [100, 473, 846];
const colWidth = [358, 358, 359];
const rowTop = [53, 435];
const rowHeight = 367;

const fmt = (v, d) => v.toFixed(d).replace('-', '\u2212');

const grids = [], xAxes = [], yAxes = [], series = [];
for (let r = 0; r < 2; r++) {
  for (let c = 0; c < 3; c++) {
    const i = grids.length;
    grids.push({ left: colLeft[c], top: rowTop[r], width: colWidth[c], height: rowHeight });
    const showX = r === 1, showY = c === 0;
    xAxes.push({
      type: 'value', gridIndex: i, min: xLimits[c][0], max: xLimits[c][1],
      axisLine: { show: showX, onZero: false, lineStyle: { color: '#000', width: 1.8 } },
      axisTick: { show: showX, customValues: xTicks[c], length: 5, lineStyle: { color: '#333', width: 1.6 } },
      axisLabel: { show: showX, customValues: xTicks[c], formatter: v => fmt(v, xTickDigits[c]),
                   color: '#4D4D4D', fontSize: 22, fontFamily: FONT, margin: 9 },
      splitLine: { show: false }
    });
    yAxes.push({
      type: 'value', gridIndex: i, min: yLimits[r][0], max: yLimits[r][1],
      axisLine: { show: showY, onZero: false, lineStyle: { color: '#000', width: 1.8 } },
      axisTick: { show: showY, customValues: yTicks[r], length: 5, lineStyle: { color: '#333', width: 1.6 } },
      axisLabel: { show: showY, customValues: yTicks[r], formatter: v => fmt(v, 0),
                   color: '#4D4D4D', fontSize: 22, fontFamily: FONT, margin: 11 },
      splitLine: { show: false }
    });

    series.push({
      type: 'scatter', xAxisIndex: i, yAxisIndex: i, data: points[r][c],
      symbolSize: 13, itemStyle: { color: siteColors[c], opacity: 1 }, z: 2, silent: true,
      markLine: {
        z: 1, silent: true, symbol: 'none', label: { show: false },
        data: refLines.map(v => ({
          yAxis: v,
          lineStyle: { color: '#000', width: 1.8, type: v === 0 ? 'solid' : [9, 9] }
        }))
      }
    });

    const band = bands[r][c];
    if (band) {
      series.push({
        type: 'custom', xAxisIndex: i, yAxisIndex: i, data: band, z: 3, silent: true,
        renderItem: (params, api) => {
          if (params.dataIndex !== 0) return null;
          const up = band.map(b => api.coord([b[0], b[2]]));
          const lo = band.slice().reverse().map(b => api.coord([b[0], b[1]]));
          return { type: 'polygon', shape: { points: up.concat(lo), smooth: 0.3 },
                   style: { fill: 'rgba(153,153,153,0.4)' } };
        }
      });
    }
    if (fits[r][c]) {
      series.push({
        type: 'line', xAxisIndex: i, yAxisIndex: i, data: fits[r][c], symbol: 'none', z: 4, silent: true,
        lineStyle: { color: '#000', width: 3.5 }
      });
    }
  }
}

const graphic = [];
sites.forEach((s, c) => {
  graphic.push({ type: 'rect', shape: { x: colLeft[c], y: 10, width: colWidth[c], height: 42 },
                 style: { fill: '#fff', stroke: '#1a1a1a', lineWidth: 1.8 } });
  graphic.push({ type: 'text', x: colLeft[c] + colWidth[c] / 2, y: 31,
                 style: { text: s, font: '22px ' + FONT, fill: '#1a1a1a', align: 'center', verticalAlign: 'middle' } });
});
traits.forEach((t, r) => {
  graphic.push({ type: 'rect', shape: { x: 1206, y: rowTop[r], width: 60, height: rowHeight },
                 style: { fill: '#fff', stroke: '#1a1a1a', lineWidth: 1.8 } });
  graphic.push({ type: 'text', x: 1226, y: rowTop[r] + rowHeight / 2, rotation: -Math.PI / 2,
                 style: { text: t, font: '22px ' + FONT, fill: '#1a1a1a', align: 'center', verticalAlign: 'middle' } });
});
graphic.push({ type: 'text', x: 24, y: 428, rotation: Math.PI / 2,
               style: { text: 'Functional Dispersion Deviation', font: '29px ' + FONT, fill: '#000',
                        align: 'center', verticalAlign: 'middle' } });
graphic.push({ type: 'text', x: 651, y: 872,
               style: { text: 'Topo-edaphic PC1', font: '29px ' + FONT, fill: '#000',
                        align: 'center', verticalAlign: 'middle' } });

const chart = echarts.init(document.getElementById('chart'));
chart.setOption({
  animation: false,
  backgroundColor: '#fff',
  grid: grids,
  xAxis: xAxes,
  yAxis: yAxes,
  series: series,
  graphic: graphic
});
</script>
</body>
</html>
